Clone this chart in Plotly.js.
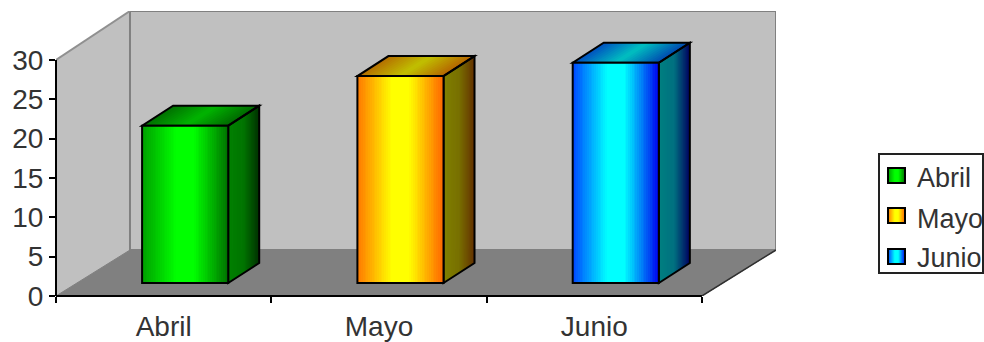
<!DOCTYPE html>
<html>
<head>
<meta charset="utf-8">
<script src="https://cdn.plot.ly/plotly-3.0.1.min.js"></script>
<style>html,body{margin:0;padding:0;background:#fff}#chart{width:984px;height:342px}</style>
</head>
<body>
<div id="chart"></div>
<script>
// Chart data
const categories = ['Abril', 'Mayo', 'Junio'];
const values = [20, 26.3, 28];
const yTicks = [0, 5, 10, 15, 20, 25, 30];

// Shading of each bar: [edge, centre, edge] for the front, top and side faces
const frontColors = [
  ['#00a000', '#00ff00', '#007000'],
  ['#ff7800', '#ffff00', '#ff6400'],
  ['#0046ff', '#00ffff', '#0000f0']
];
const topColors = [
  ['#007000', '#00b400', '#006800'],
  ['#b46e00', '#c0c000', '#b46400'],
  ['#0050c0', '#00c0c0', '#0048b0']
];
const sideColors = [
  ['#008000', '#007400', '#003000'],
  ['#808000', '#787000', '#643000'],
  ['#008080', '#007080', '#000060']
];

// Axis scale and 3D projection, in data units
const catPx = 215.33, valPx = 7.867;
const xMin = -0.5, xMax = 2.844, yMax = 36.23;
const wallDx = 74 / catPx, wallDy = 46 / valPx;
const barDx = 31 / catPx, barDy = 20 / valPx;
const barShiftX = 21.5 / catPx, barBase = 13 / valPx;
const barWidth = 0.4;
const SLICES = 24;
const plotW = 720, plotH = 285, marginL = 56, marginT = 11;

const mix = (a, b, t) => {
  const c = s => [1, 3, 5].map(i => parseInt(s.substr(i, 2), 16));
  const ca = c(a), cb = c(b);
  return 'rgb(' + ca.map((v, i) => Math.round(v + (cb[i] - v) * t)).join(',') + ')';
};
const ramp = (stops, t) => t < 0.5 ? mix(stops[0], stops[1], t * 2) : mix(stops[1], stops[2], t * 2 - 1);
// The front faces hold their centre colour over the middle fifth of the width
const frontRamp = (stops, t) => t < 0.4 ? mix(stops[0], stops[1], t / 0.4)
  : t > 0.6 ? mix(stops[1], stops[2], (t - 0.6) / 0.4) : stops[1];
const poly = pts => 'M' + pts.map(p => p.join(',')).join('L') + 'Z';
const px = v => (v - marginL) / plotW;
const py = v => 1 - (v - marginT) / plotH;

const shapes = [];
const dataPoly = (pts, fill, line, width) => shapes.push({
  type: 'path', xref: 'x', yref: 'y', layer: 'below', path: poly(pts),
  fillcolor: fill, line: {color: line || fill, width: width === undefined ? 1 : width}
});

// Walls and floor
dataPoly([[xMin, 0], [xMin + wallDx, wallDy], [xMin + wallDx, yMax], [xMin, 30]], '#c0c0c0', '#c0c0c0');
dataPoly([[xMin + wallDx, wallDy], [xMax, wallDy], [xMax, yMax], [xMin + wallDx, yMax]], '#c0c0c0', '#808080', 2);
dataPoly([[xMin, 0], [xMin + wallDx, wallDy], [xMax, wallDy], [2.5, 0]], '#808080', '#808080');
const edge = (x0, y0, x1, y1, color, width) => shapes.push({
  type: 'line', xref: 'x', yref: 'y', layer: 'below', x0, y0, x1, y1, line: {color, width}
});
edge(xMin, 30, xMin + wallDx, yMax, '#909090', 2);
edge(2.5, 0, xMax, wallDy, '#303030', 1.5);

// Top and side faces of the bars, sliced so their shading reads as a gradient.
// Each slice runs under its neighbour so no seams show.
const traces = [];
categories.forEach((cat, i) => {
  const xl = i + barShiftX - barWidth / 2, xr = xl + barWidth;
  const yb = barBase, yt = barBase + values[i];
  for (let s = 0; s < SLICES; s++) {
    const a = s / SLICES, b = Math.min(1, (s + 1.6) / SLICES), c = ramp(topColors[i], (s + 0.5) / SLICES);
    const xa = xl + barWidth * a, xc = xl + barWidth * b;
    dataPoly([[xa, yt], [xc, yt], [xc + barDx, yt + barDy], [xa + barDx, yt + barDy]], c, c, 0);
  }
  for (let s = 0; s < SLICES; s++) {
    const a = s / SLICES, b = Math.min(1, (s + 1.6) / SLICES), c = ramp(sideColors[i], (s + 0.5) / SLICES);
    dataPoly([[xr + barDx * a, yb + barDy * a], [xr + barDx * b, yb + barDy * b],
              [xr + barDx * b, yt + barDy * b], [xr + barDx * a, yt + barDy * a]], c, c, 0);
  }
  dataPoly([[xl, yt], [xr, yt], [xr + barDx, yt + barDy], [xl + barDx, yt + barDy]], 'rgba(0,0,0,0)', '#000', 2);
  dataPoly([[xr, yb], [xr + barDx, yb + barDy], [xr + barDx, yt + barDy], [xr, yt]], 'rgba(0,0,0,0)', '#000', 2);

  // Front face gradient
  const edgesX = [], shade = [];
  for (let k = 0; k <= 2 * SLICES; k++) edgesX.push(xl + barWidth * k / (2 * SLICES));
  for (let k = 0; k < 2 * SLICES; k++) shade.push((k + 0.5) / (2 * SLICES));
  traces.push({
    type: 'heatmap', x: edgesX, y: [yb, yt], z: [shade], zmin: 0, zmax: 1,
    colorscale: [[0, frontColors[i][0]], [0.4, frontColors[i][1]], [0.6, frontColors[i][1]], [1, frontColors[i][2]]],
    showscale: false, hoverinfo: 'skip', xaxis: 'x', yaxis: 'y'
  });
});

// Bar outlines, positioned from the values
traces.push({
  type: 'bar', x: categories.map((c, i) => i + barShiftX), y: values, base: barBase, width: barWidth,
  marker: {color: 'rgba(0,0,0,0)', line: {color: '#000', width: 2}},
  xaxis: 'x2', yaxis: 'y', hovertemplate: '%{customdata}: %{y}<extra></extra>', customdata: categories,
  showlegend: false
});

// Front axis lines
shapes.push({type: 'line', xref: 'x', yref: 'paper', layer: 'above', x0: xMin, x1: 2.5, y0: 0, y1: 0, line: {color: '#000', width: 2}});
shapes.push({type: 'line', xref: 'paper', yref: 'y', layer: 'above', x0: 0, x1: 0, y0: 0, y1: 30, line: {color: '#000', width: 2}});

// Legend box with shaded swatches
const textFamily = 'Liberation Sans, Arial, sans-serif';
const annotations = [];
shapes.push({type: 'rect', xref: 'paper', yref: 'paper', x0: px(879), x1: px(983), y0: py(154), y1: py(273),
  fillcolor: '#fff', line: {color: '#222', width: 2}});
const swatchTop = [168, 208, 249], textMid = [178, 219, 258];
categories.forEach((cat, i) => {
  const sx = 888, sw = 17, sh = 15;
  for (let k = 0; k < sw; k++) {
    const c = frontRamp(frontColors[i], (k + 0.5) / sw);
    shapes.push({type: 'rect', xref: 'paper', yref: 'paper', x0: px(sx + k), x1: px(sx + k + 1),
      y0: py(swatchTop[i]), y1: py(swatchTop[i] + sh), fillcolor: c, line: {width: 0}});
  }
  shapes.push({type: 'rect', xref: 'paper', yref: 'paper', x0: px(sx), x1: px(sx + sw),
    y0: py(swatchTop[i]), y1: py(swatchTop[i] + sh), fillcolor: 'rgba(0,0,0,0)', line: {color: '#000', width: 2}});
  annotations.push({xref: 'paper', yref: 'paper', x: px(915), y: py(textMid[i]), xanchor: 'left', yanchor: 'middle',
    text: cat, showarrow: false, font: {family: textFamily, size: 27, color: '#333'}});
});

const textFont = {family: textFamily, size: 28, color: '#333'};
const layout = {
  width: 984, height: 342,
  margin: {l: marginL, r: 984 - 776, t: marginT, b: 46, pad: 0},
  paper_bgcolor: '#fff', plot_bgcolor: '#fff',
  showlegend: false,
  xaxis: {
    type: 'linear', range: [xMin, xMax], tickmode: 'array', tickvals: [0, 1, 2], ticktext: categories,
    ticks: '', showgrid: false, zeroline: false, showline: false, tickfont: textFont, ticklabelstandoff: 11, fixedrange: true
  },
  xaxis2: {
    type: 'linear', overlaying: 'x', range: [xMin, xMax], tickmode: 'array', tickvals: [-0.5, 0.5, 1.5, 2.5],
    ticks: 'outside', ticklen: 6, tickwidth: 2, tickcolor: '#000', showticklabels: false,
    showgrid: false, zeroline: false, showline: false, side: 'bottom', anchor: 'y', fixedrange: true
  },
  yaxis: {
    range: [0, yMax], tickmode: 'array', tickvals: yTicks, ticks: 'outside', ticklen: 6, tickwidth: 2, tickcolor: '#000',
    showgrid: false, zeroline: false, showline: false, tickfont: textFont, fixedrange: true
  },
  shapes, annotations
};
Plotly.newPlot('chart', traces, layout, {displayModeBar: false, staticPlot: true});
</script>
</body>
</html>
